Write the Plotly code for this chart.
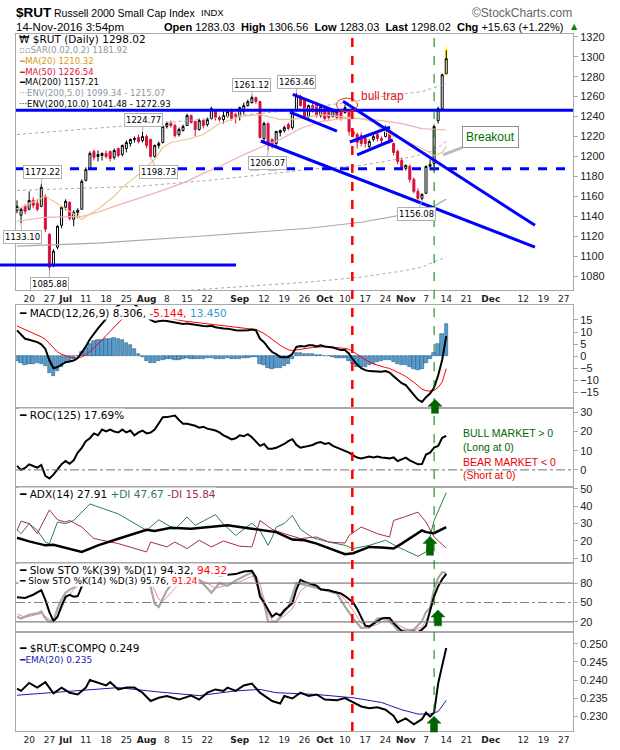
import plotly.graph_objects as go
from plotly.subplots import make_subplots

W, H = 620, 750

# daily bars, 15-Jun-2016 .. 14-Nov-2016 (x = trading-day number, 0 = 15-Jun)
opens = [1146, 1141, 1150, 1147, 1156, 1153, 1150, 1160, 1122, 1090,
         1109, 1131, 1149, 1154, 1137, 1144, 1147, 1176, 1188, 1205,
         1200, 1201, 1203, 1205, 1199, 1208, 1202, 1208, 1213, 1217,
         1219, 1216, 1220, 1217, 1200, 1211, 1214, 1230, 1233, 1231,
         1222, 1226, 1231, 1241, 1235, 1227, 1236, 1232, 1238, 1246,
         1239, 1237, 1240, 1246, 1242, 1240, 1245, 1251, 1254, 1259,
         1255, 1218, 1233, 1217, 1213, 1224, 1226, 1232, 1229, 1246,
         1260, 1257, 1240, 1251, 1253, 1241, 1248, 1246, 1240, 1245,
         1245, 1244, 1246, 1225, 1222, 1221, 1218, 1210, 1217, 1222,
         1218, 1220, 1226, 1213, 1205, 1196, 1188, 1190, 1177, 1165,
         1158, 1163, 1190, 1193, 1236, 1248, 1283.03]
highs = [1156, 1149, 1152, 1165, 1159, 1157, 1172.22, 1162, 1123, 1107,
         1131, 1150, 1157, 1155, 1146, 1148, 1177, 1189, 1205, 1207,
         1206, 1204, 1206, 1206, 1208, 1209, 1212, 1216, 1218, 1220,
         1222, 1224.77, 1222, 1218, 1212, 1215, 1231, 1235, 1236, 1233,
         1229, 1232, 1243, 1242, 1236, 1238, 1237, 1239, 1250, 1247,
         1241, 1246, 1247, 1248, 1244, 1250, 1254, 1257, 1261.12, 1260,
         1256, 1235, 1234, 1218, 1226, 1227, 1231, 1234, 1246, 1263.46,
         1262, 1258, 1252, 1253, 1255, 1252, 1249, 1247, 1248, 1246,
         1247, 1252, 1247, 1228, 1224, 1224, 1220, 1217, 1222, 1224,
         1220, 1231, 1227, 1214, 1207, 1199, 1192, 1192, 1179, 1168,
         1163, 1191, 1197, 1232, 1250, 1283, 1306.56]
lows = [1143, 1133.10, 1142, 1146, 1148, 1145, 1149, 1124, 1085.88, 1089,
        1107, 1128, 1146, 1136, 1130, 1138, 1147, 1175, 1187, 1196,
        1195, 1196, 1198, 1195, 1197, 1199, 1200, 1204, 1210, 1214,
        1213, 1214, 1208, 1198.73, 1199, 1208, 1213, 1228, 1229, 1219,
        1220, 1225, 1231, 1233, 1220, 1226, 1228, 1230, 1237, 1236,
        1235, 1233, 1239, 1236, 1233, 1236, 1242, 1250, 1253, 1253,
        1218, 1214, 1206.07, 1208, 1210, 1220, 1224, 1226, 1227, 1245,
        1250, 1239, 1238, 1244, 1239, 1239, 1236, 1237, 1239, 1237,
        1236, 1243, 1221, 1219, 1208, 1210, 1209, 1208, 1215, 1215,
        1213, 1219, 1213, 1201, 1192, 1186, 1186, 1174, 1163, 1156.5,
        1156.08, 1163, 1186, 1185, 1233, 1247, 1283.03]
closes = [1150, 1147, 1145, 1156, 1151, 1147, 1169, 1127, 1089, 1105,
          1130, 1149, 1155, 1138, 1144, 1146, 1175, 1187, 1203, 1199,
          1202, 1203, 1200, 1198, 1206, 1201, 1211, 1214, 1217, 1218,
          1215, 1220, 1211, 1200, 1211, 1213, 1230, 1233, 1231, 1221,
          1227, 1230, 1241, 1234, 1227, 1236, 1231, 1237, 1248, 1239,
          1237, 1241, 1245, 1238, 1240, 1249, 1251, 1255, 1259, 1255,
          1219, 1233, 1212, 1212, 1225, 1226, 1229, 1228, 1245, 1261,
          1251, 1240, 1251, 1245, 1241, 1250, 1238, 1239, 1246, 1239,
          1238, 1249, 1225, 1222, 1214, 1213, 1213, 1215, 1220, 1218,
          1216, 1228, 1215, 1204, 1195, 1188, 1191, 1177, 1165, 1158,
          1162, 1190, 1192, 1230, 1248, 1282, 1298.02]
days = list(range(len(closes)))

# price overlays (day, value)
ma20_days = [0, 7, 11, 16, 20, 24, 26, 30, 34, 36, 38, 42, 46, 50, 55, 60, 65, 70, 75, 80,
             82, 85, 88, 90, 93, 95, 99, 101, 103, 105, 106]
ma20_vals = [1147, 1160, 1150, 1137, 1147, 1160, 1169, 1182, 1197, 1209, 1214, 1217, 1222, 1233,
             1240, 1242, 1237, 1238, 1242, 1240, 1239, 1238, 1235, 1227, 1220, 1217, 1210, 1206,
             1201, 1204, 1210.32]
ma50_days = [0, 7, 16, 20, 24, 30, 36, 42, 46, 50, 55, 60, 65, 70, 75, 80, 85, 90, 95, 100, 106]
ma50_vals = [1135, 1139, 1140, 1144, 1150, 1158, 1166, 1175, 1183, 1190, 1200, 1209, 1217, 1228,
             1235, 1238, 1238, 1236, 1233, 1228, 1226.54]
ma200_days = [0, 20, 45, 72, 85, 95, 100, 103, 106]
ma200_vals = [1110, 1113, 1120, 1128, 1134, 1141, 1145, 1150, 1157.21]
env5_up_days = [0, 30, 50, 72, 85, 98, 103, 106]
env5_up_vals = [1166, 1170, 1177, 1187, 1191, 1200, 1206, 1215.07]
env5_lo_days = [43, 60, 72, 85, 95, 100, 106]
env5_lo_vals = [1066, 1071, 1074, 1079, 1085, 1089, 1099.34]
env10_up_days = [0, 37, 67, 83, 90, 100, 106]
env10_up_vals = [1222, 1234, 1246, 1255, 1260, 1265, 1272.93]

# MACD(12,26,9)
macd = [10.7, 9.0, 7.2, 6.8, 6.3, 5.8, 4.9, 3.0, -1.7, -5.0,
        -4.5, -3.5, -2.5, -2.2, -1.8, -0.8, 1.5, 4.0, 7.0, 9.5,
        11.5, 13.5, 15.5, 17.5, 19.5, 21.0, 22.0, 22.5, 22.5, 21.5,
        20.0, 18.5, 16.5, 15.0, 14.2, 14.5, 14.8, 14.6, 14.3, 13.8,
        13.5, 13.3, 13.5, 13.2, 12.9, 12.7, 12.5, 12.4, 12.6, 12.0,
        11.6, 11.5, 11.4, 11.0, 10.7, 10.6, 10.6, 10.7, 11.0, 10.7,
        7.2, 5.8, 3.5, 1.7, 0.8, -0.4, -0.5, -0.4, 1.0, 3.8,
        4.2, 4.0, 4.5, 4.5, 4.0, 4.5, 4.0, 3.8, 3.6, 3.0,
        2.5, 2.5, 1.0, -1.5, -3.5, -5.0, -5.8, -6.2, -6.3, -6.3,
        -6.5, -6.2, -6.8, -8.3, -9.8, -11.2, -12.0, -13.8, -16.0, -18.0,
        -19.0, -17.0, -15.5, -13.0, -8.0, -1.5, 8.306]
signal = [12.5, 11.8, 11.0, 10.2, 9.5, 8.8, 8.0, 7.0, 5.3, 3.4,
          1.8, 0.8, 0.1, -0.4, -0.7, -0.7, -0.3, 0.6, 1.9, 3.4,
          5.0, 6.7, 8.5, 10.3, 12.1, 13.9, 15.5, 16.9, 18.0, 18.7,
          19.0, 18.9, 18.4, 17.8, 17.1, 16.6, 16.2, 15.9, 15.6, 15.2,
          14.9, 14.6, 14.4, 14.2, 14.0, 13.7, 13.5, 13.3, 13.2, 13.0,
          12.7, 12.5, 12.3, 12.0, 11.8, 11.6, 11.4, 11.3, 11.2, 11.1,
          10.3, 9.4, 8.2, 6.9, 5.7, 4.5, 3.5, 2.7, 2.3, 2.6,
          2.9, 3.1, 3.4, 3.6, 3.7, 3.9, 3.9, 3.9, 3.8, 3.6,
          3.4, 3.2, 2.8, 1.9, 0.8, -0.4, -1.5, -2.4, -3.2, -3.8,
          -4.4, -4.7, -5.1, -5.8, -6.6, -7.5, -8.4, -9.5, -10.8, -12.2,
          -13.6, -14.3, -14.5, -14.2, -13.0, -10.7, -5.144]
macd_hist = [m - s for m, s in zip(macd, signal)]

# ROC(125)
roc = [2.1, 0.0, 1.0, 2.9, 2.0, 1.2, 2.5, -3.1, -4.5, -2.5,
       0.3, 3.0, 4.6, 3.2, 5.0, 9.0, 11.5, 15.0, 16.5, 19.0,
       18.0, 21.0, 20.0, 21.0, 20.0, 19.5, 21.0, 19.5, 20.5, 18.0,
       19.5, 20.5, 19.0, 19.5, 21.0, 24.0, 27.4, 27.5, 28.0, 28.3,
       26.0, 24.0, 24.0, 23.5, 23.0, 22.0, 22.5, 21.5, 21.0, 20.5,
       19.5, 18.0, 17.0, 15.9, 16.5, 18.0, 17.5, 18.6, 17.0, 14.5,
       12.5, 13.5, 11.0, 11.0, 11.5, 12.5, 13.5, 15.0, 16.0, 13.0,
       11.6, 12.0, 12.5, 13.0, 14.0, 14.5, 13.5, 14.0, 12.5, 11.6,
       10.5, 10.0, 9.0, 7.5, 6.4, 6.0, 6.5, 6.9, 6.5, 7.0,
       6.5, 6.4, 6.0, 6.5, 4.6, 5.5, 6.4, 5.0, 4.0, 2.9,
       3.0, 8.0, 9.0, 11.6, 12.5, 16.7, 17.69]

# ADX(14), +DI, -DI
adx_days = [0, 3, 7, 9, 16, 20, 25, 32, 34, 38, 43, 48, 52, 58, 64, 68, 71, 74, 81, 83,
            87, 90, 93, 95, 100, 101, 103, 106]
adx_vals = [21.8, 19.7, 17.4, 17.7, 13.6, 17.4, 21.2, 26.4, 25.7, 27.5, 27.0, 28.0, 28.9, 27.0,
            25.0, 20.7, 20.3, 18.4, 12.3, 12.9, 16.5, 16.1, 15.6, 18.4, 26.0, 25.0, 24.4, 27.91]
pdi_days = [0, 1, 3, 5, 7, 8, 10, 12, 14, 18, 25, 32, 35, 39, 42, 44, 49, 51, 54, 58,
            60, 62, 63, 64, 66, 68, 70, 73, 77, 81, 83, 87, 91, 94, 99, 101, 103, 106]
pdi_vals = [26.4, 24.1, 29.9, 26.0, 19.3, 18.4, 30.8, 29.9, 31.7, 41.2, 35.5, 26.0, 32.1, 26.6,
            33.7, 28.9, 35.1, 29.5, 23.1, 30.2, 26.0, 17.4, 22.0, 27.9, 30.0, 34.6, 26.6, 21.8,
            19.3, 17.4, 15.5, 17.4, 20.3, 16.5, 11.1, 13.6, 31.7, 47.67]
mdi_days = [0, 1, 3, 5, 8, 10, 12, 13, 16, 19, 25, 32, 33, 37, 39, 42, 45, 48, 51, 55,
            58, 60, 63, 66, 70, 74, 77, 81, 82, 85, 87, 89, 92, 93, 96, 99, 101, 103, 106]
mdi_vals = [26.0, 31.3, 29.9, 24.1, 37.8, 32.1, 30.8, 31.7, 27.9, 21.3, 18.4, 13.6, 19.3, 16.5,
            19.3, 15.5, 20.3, 16.5, 19.9, 16.9, 16.5, 31.7, 26.6, 24.1, 21.3, 22.2, 19.3, 18.7,
            23.1, 27.9, 26.0, 24.1, 22.2, 31.7, 34.0, 36.5, 30.8, 22.2, 15.84]

# Slow stochastics
k39_days = [0, 2, 4, 5, 6, 7, 8, 9, 10, 11, 12, 13, 14, 15, 16, 17, 18, 20, 24, 28,
            31, 33, 35, 38, 40, 42, 44, 46, 48, 50, 52, 54, 56, 58, 59, 60, 61, 62, 63, 64,
            65, 66, 68, 69, 70, 71, 72, 74, 75, 77, 78, 80, 81, 82, 83, 84, 85, 86, 87, 88,
            90, 91, 92, 93, 94, 95, 96, 97, 98, 99, 100, 101, 102, 103, 104, 105, 106]
k39_vals = [58, 57, 62, 65, 69, 54, 35, 21, 28, 45, 59, 62, 59, 60, 74, 90, 98, 97, 98, 99,
            99, 90, 94, 99, 95, 99, 93, 94, 96, 92, 93, 94, 98, 99, 89, 59, 50, 40, 28, 33,
            30, 38, 49, 70, 85, 82, 80, 76, 70, 69, 67, 64, 60, 55, 50, 40, 28, 14, 13, 17,
            25, 26, 26, 18, 12, 6, 4, 5, 5, 4, 8, 14, 35, 60, 75, 86, 94.32]
k14_days = [0, 1, 3, 5, 6, 7, 8, 9, 10, 11, 12, 13, 14, 15, 16, 17, 20, 25, 30, 31,
            32, 33, 34, 35, 36, 37, 39, 41, 43, 45, 47, 48, 50, 52, 54, 56, 58, 59, 61, 62,
            64, 65, 67, 69, 72, 76, 79, 81, 83, 85, 87, 89, 91, 93, 94, 96, 98, 100, 101, 102,
            103, 104, 105, 106]
k14_vals = [28, 25, 31, 33, 36, 25, 20, 22, 41, 55, 65, 70, 73, 80, 90, 97, 98, 97, 96, 90,
            84, 74, 48, 43, 55, 69, 84, 92, 90, 85, 72, 65, 80, 76, 84, 91, 97, 83, 49, 20.5,
            20, 28, 43, 80, 76, 69, 64, 43.5, 25, 10.8, 11, 25, 26, 15, 7, 7, 8, 21, 35, 42,
            70, 88, 97, 95.76]
d3_days = [0, 2, 4, 6, 8, 9, 10, 11, 12, 13, 14, 15, 16, 18, 22, 28, 31, 33, 34, 35,
           36, 37, 39, 41, 44, 47, 49, 51, 53, 55, 57, 59, 60, 61, 62, 63, 64, 65, 67, 68,
           69, 70, 72, 74, 76, 79, 81, 83, 84, 85, 87, 89, 90, 92, 93, 94, 96, 98, 100, 101,
           102, 103, 104, 105, 106]
d3_vals = [32, 27, 30, 33, 24, 21, 28, 40, 55, 63, 70, 75, 82, 94, 97, 96, 93, 83, 69, 55,
           52, 58, 72, 85, 89, 80, 72, 75, 78, 82, 88, 92, 78, 55, 33, 22, 21, 24, 35, 40,
           55, 68, 78, 74, 70, 66, 55, 38, 28, 18, 12, 16, 20, 25, 22, 16, 9, 7, 12, 22,
           35, 55, 75, 88, 91.24]

# $RUT:$COMPQ ratio and its EMA(20)
ratio_days = [0, 1, 3, 5, 7, 9, 11, 13, 15, 17, 18, 20, 22, 23, 25, 27, 29, 31, 33, 35,
              37, 40, 43, 45, 47, 49, 51, 52, 54, 56, 58, 60, 63, 65, 66, 68, 70, 72, 74, 76,
              79, 81, 83, 85, 87, 89, 91, 93, 94, 96, 98, 100, 101, 102, 103, 104, 105, 106]
ratio_vals = [0.2376, 0.2370, 0.2392, 0.2379, 0.2394, 0.2363, 0.2379, 0.2365, 0.2360, 0.2379,
              0.2400, 0.2392, 0.2385, 0.2394, 0.2374, 0.2379, 0.2379, 0.2365, 0.2342, 0.2351,
              0.2356, 0.2346, 0.2357, 0.2346, 0.2365, 0.2374, 0.2370, 0.2379, 0.2370, 0.2385,
              0.2390, 0.2365, 0.2342, 0.2335, 0.2356, 0.2349, 0.2365, 0.2356, 0.2360, 0.2346,
              0.2344, 0.2350, 0.2338, 0.2327, 0.2322, 0.2325, 0.2318, 0.2301, 0.2283, 0.2294,
              0.2278, 0.2292, 0.2310, 0.2299, 0.2310, 0.2390, 0.2440, 0.2488]
ema_days = [0, 15, 25, 35, 45, 54, 60, 64, 74, 83, 90, 95, 99, 102, 104, 106]
ema_vals = [0.2358, 0.2370, 0.2379, 0.2367, 0.2357, 0.2370, 0.2374, 0.2365, 0.2360, 0.2351,
            0.2338, 0.2318, 0.2306, 0.2306, 0.2313, 0.2344]

# date axis
tick_days = [3, 8, 12, 17, 22, 27, 32, 37, 42, 47, 55, 61, 66, 71, 76, 81, 86, 91, 96, 101,
             106, 111, 117, 125, 130, 135]
tick_text = ["20", "27", "<b>Jul</b>", "11", "18", "25", "<b>Aug</b>", "8", "15", "22",
             "<b>Sep</b>", "12", "19", "26", "<b>Oct</b>", "10", "17", "24", "<b>Nov</b>", "7",
             "14", "21", "<b>Dec</b>", "12", "19", "27"]

# hand-drawn marks on the price panel: (day, price) end points
trend_lines = [((80.5, 1255.3), (127.9, 1130.9)),
               ((68.1, 1262.3), (79.3, 1244.4)),
               ((67.4, 1244.4), (79.0, 1225.5)),
               ((60.2, 1215.5), (127.9, 1109.1)),
               ((82.2, 1214.5), (92.1, 1229.5)),
               ((84.0, 1201.6), (92.8, 1216.5))]
resistance = 1246.4
support = 1187.7
brexit_low_line = 1091.2
bull_trap_day = 82.8
breakout_day = 103


def px(x):
    return x / W


def py(y):
    return 1 - y / H


fig = make_subplots(rows=6, cols=1, shared_xaxes=True, vertical_spacing=0)


def line(xs, ys, color, width, row, dash="solid"):
    fig.add_trace(go.Scatter(x=xs, y=ys, mode="lines", hoverinfo="skip",
                             line=dict(color=color, width=width, dash=dash)), row=row, col=1)


# ---- price panel
line(env10_up_days, env10_up_vals, "#A8A8A8", 1, 1, "dot")
line(env5_up_days, env5_up_vals, "#A8A8A8", 1, 1, "dot")
line(env5_lo_days, env5_lo_vals, "#A8A8A8", 1, 1, "dot")
line(ma200_days, ma200_vals, "#A8A8A8", 1.2, 1)
line(ma50_days, ma50_vals, "#F2B0B0", 1.2, 1)
line(ma20_days, ma20_vals, "#EDC58A", 1.2, 1)
fig.add_trace(go.Candlestick(
    x=days, open=opens, high=highs, low=lows, close=closes, whiskerwidth=0,
    increasing=dict(line=dict(color="#000000", width=1), fillcolor="#FFFFFF"),
    decreasing=dict(line=dict(color="#D8103C", width=1), fillcolor="#D8103C"),
    hoverinfo="skip"), row=1, col=1)

# ---- MACD
fig.add_trace(go.Bar(x=days, y=macd_hist, marker=dict(color="#5A9BCB", line=dict(color="#1F5F8F", width=0.6)),
                     width=0.85, hoverinfo="skip"), row=2, col=1)
line(days, signal, "#FF0000", 1, 2)
line(days, macd, "#000000", 2, 2)

# ---- ROC
line(days, roc, "#000000", 2, 3)

# ---- ADX
line(pdi_days, pdi_vals, "#2E7D52", 1, 4)
line(mdi_days, mdi_vals, "#A0304F", 1, 4)
line(adx_days, adx_vals, "#000000", 2.5, 4)

# ---- stochastics
line(d3_days, d3_vals, "#F28C8C", 1, 5)
line(k14_days, k14_vals, "#A8A8A8", 2.2, 5)
line(k39_days, k39_vals, "#000000", 2, 5)

# ---- ratio
line(ema_days, ema_vals, "#1A1AB0", 1, 6)
line(ratio_days, ratio_vals, "#000000", 2, 6)

panels = [(30, 288), (303, 407), (407, 486), (486, 563), (563, 632), (632, 732)]
yranges = [[1066, 1323], [-21.6, 21.2], [-8.8, 32.1], [7.1, 51.1], [4.6, 110.8], [0.2259, 0.2533]]
yticks = [list(range(1080, 1321, 20)), [-15, -10, -5, 0, 5, 10, 15], [0, 10, 20, 30],
          [10, 20, 30, 40, 50], [20, 50, 80], [0.230, 0.235, 0.240, 0.245, 0.250]]
border = "#A8A8A8"
for i in range(6):
    sfx = "" if i == 0 else str(i + 1)
    top, bottom = panels[i]
    fig.update_layout({
        "xaxis" + sfx: dict(domain=[px(16), px(573)], range=[-0.25, 137.3], showgrid=False, zeroline=False,
                            showline=True, mirror=True, linecolor=border, tickvals=tick_days,
                            ticktext=tick_text, ticks="", showticklabels=i in (0, 5),
                            tickfont=dict(family="DejaVu Sans", size=9, color="#222222"),
                            rangeslider=dict(visible=False)),
        "yaxis" + sfx: dict(domain=[py(bottom), py(top)], range=yranges[i], side="right",
                            tickvals=yticks[i], ticks="outside", ticklen=4, tickcolor=border,
                            showgrid=False, zeroline=False, showline=True, mirror=True,
                            linecolor=border, tickformat=".3f" if i == 5 else "",
                            tickfont=dict(family="Liberation Sans", size=11, color="#222222")),
    })

fig.update_layout(width=W, height=H, margin=dict(l=0, r=0, t=0, b=0), showlegend=False,
                  paper_bgcolor="white", plot_bgcolor="white", bargap=0)

# reference levels
fig.add_hline(y=0, row=3, col=1, line=dict(color="#707070", width=1, dash="dashdot"))
fig.add_hline(y=80, row=5, col=1, line=dict(color="#808080", width=1.2))
fig.add_hline(y=20, row=5, col=1, line=dict(color="#808080", width=1.2))
fig.add_hline(y=50, row=5, col=1, line=dict(color="#808080", width=1, dash="dashdot"))

# marks on price panel
fig.add_shape(type="rect", xref="x", yref="y", x0=105.55, x1=106.45, y0=1281, y1=1309.5,
              fillcolor="#FFFF70", line=dict(width=0), layer="below")
for (x0, y0), (x1, y1) in trend_lines:
    fig.add_shape(type="line", xref="x", yref="y", x0=x0, y0=y0, x1=x1, y1=y1,
                  line=dict(color="#0000FF", width=3))
fig.add_shape(type="line", xref="x domain", yref="y", x0=0, x1=1, y0=resistance, y1=resistance,
              line=dict(color="#0000FF", width=3))
fig.add_shape(type="line", xref="x domain", yref="y", x0=0, x1=1, y0=support, y1=support,
              line=dict(color="#0000FF", width=3, dash="dash"))
fig.add_shape(type="line", xref="paper", yref="y", x0=0, x1=px(236), y0=brexit_low_line,
              y1=brexit_low_line, line=dict(color="#0000FF", width=3))
fig.add_shape(type="circle", xref="x", yref="y", x0=78.9, x1=84.1, y0=1245, y1=1258.5,
              line=dict(color="#E03030", width=1))
fig.add_shape(type="line", xref="x", yref="paper", x0=bull_trap_day, x1=bull_trap_day,
              y0=py(732), y1=py(28), line=dict(color="#FF0000", width=2.5, dash="dash"))
fig.add_shape(type="line", xref="x", yref="paper", x0=breakout_day, x1=breakout_day,
              y0=py(732), y1=py(28), line=dict(color="#007700", width=1, dash="dash"))

# green buy arrows
for cx, ty, by in [(435, 398, 412), (430, 536, 555), (438, 610, 626), (434, 717, 733)]:
    pts = [(cx, ty), (cx + 7, ty + 7), (cx + 3.5, ty + 7), (cx + 3.5, by), (cx - 3.5, by),
           (cx - 3.5, ty + 7), (cx - 7, ty + 7)]
    path = "M " + " L ".join(f"{px(a):.5f},{py(b):.5f}" for a, b in pts) + " Z"
    fig.add_shape(type="path", xref="paper", yref="paper", path=path,
                  fillcolor="#006400", line=dict(color="#006400", width=0.5))

# high / low tags: (day, use high?, dx, dy)
tags = [(6, True, 1, -12), (31, True, 1, -12), (33, False, 8, 14), (1, False, 1, 14),
        (8, False, 0, 14), (62, False, -1, 13), (58, True, 0, -11), (69, True, 0, -11),
        (100, False, -5, 14)]
for d, is_high, dx, dy in tags:
    val = highs[d] if is_high else lows[d]
    fig.add_annotation(x=d, y=val, xref="x", yref="y", text=f"{val:.2f}", showarrow=True,
                       arrowhead=0, arrowwidth=1, arrowcolor="#B0B0B0", ax=dx, ay=dy,
                       bordercolor="#B0B0B0", borderwidth=1, borderpad=1, bgcolor="white",
                       font=dict(family="DejaVu Sans", size=8.5, color="#000000"))

fig.add_annotation(x=105.2, y=1201.6, xref="x", yref="y", text="Breakout", showarrow=True,
                   arrowhead=0, arrowwidth=3, arrowcolor="#BBBBBB", ax=47, ay=-18,
                   bordercolor="#909090", borderwidth=1, borderpad=3, bgcolor="white",
                   font=dict(family="Liberation Sans", size=12, color="#007000"))


def note(text, x, y, size=10, color="#000000", family="DejaVu Sans", anchor="left", bg=None):
    fig.add_annotation(text=text, x=px(x), y=py(y), xref="paper", yref="paper", showarrow=False,
                       xanchor=anchor, yanchor="middle", bgcolor=bg, borderpad=0,
                       font=dict(size=size, color=color, family=family))


# header
note("<b>$RUT</b>", 15, 9, 13.5, family="Liberation Sans")
note("Russell 2000 Small Cap Index", 53, 9, 10.5, family="Liberation Sans")
note("INDX", 200, 9, 9.5, family="Liberation Sans")
note("©StockCharts.com", 573, 9, 12, "#666666", "Liberation Sans", "right")
note("14-Nov-2016 3:54pm", 15, 23, 11.5, family="Liberation Sans")
note("<b>Open</b> 1283.03  <b>High</b> 1306.56  <b>Low</b> 1283.03  <b>Last</b> 1298.02  "
     "<b>Chg</b> +15.63 (+1.22%)", 564, 23, 11, family="Liberation Sans", anchor="right")
note("▲", 570, 23, 8, "#008800")

# price legend
note("₩ $RUT (Daily) 1298.02", 18, 35, 10.5)
note("▫▫SAR(0.02,0.2) 1181.92", 18, 46, 8.5, "#8C96A0")
note('<span style="color:#E0A020">━</span>MA(20) 1210.32', 18, 57, 8.5, "#D89A10")
note('<span style="color:#E0103A">━</span>MA(50) 1226.54', 18, 68, 8.5, "#E0103A")
note("━MA(200) 1157.21", 18, 79, 8.5)
note("···ENV(200,5.0) 1099.34 - 1215.07", 18, 90, 8.5, "#8C96A0")
note("···ENV(200,10.0) 1041.48 - 1272.93", 18, 101, 8.5)
note("bull trap", 360, 93, 12, "#E02020", "Liberation Sans")

# indicator legends
note('━ MACD(12,26,9) 8.306, <span style="color:#FF0000">-5.144,</span> '
     '<span style="color:#3399CC">13.450</span>', 18, 311, 10.5, bg="white")
note("━ ROC(125) 17.69%", 18, 414, 10.5, bg="white")
note("BULL MARKET > 0", 462, 432, 10.5, "#006600", "Liberation Sans")
note("(Long at 0)", 462, 446, 10.5, "#006600", "Liberation Sans")
note("BEAR MARKET < 0", 462, 461, 10.5, "#EE0000", "Liberation Sans")
note("(Short at 0)", 462, 474, 10.5, "#EE0000", "Liberation Sans")
note('━ ADX(14) 27.91 <span style="color:#2E7D52">+DI 47.67</span> '
     '<span style="color:#A0304F">-DI 15.84</span>', 18, 493, 10.5, bg="white")
note('━ Slow STO %K(39) %D(1) 94.32, <span style="color:#FF0000">94.32</span>', 18, 570, 10.5, bg="white")
note('━ Slow STO %K(14) %D(3) 95.76, <span style="color:#FF0000">91.24</span>', 18, 581, 9, bg="white")
note("━ $RUT:$COMPQ 0.249", 18, 648, 10.5, bg="white")
note("━EMA(20) 0.235", 18, 660, 9, "#1A1AB0", bg="white")

fig.write_html("out.html", config={"displayModeBar": False},
               post_script="document.body.style.margin='0px';")
